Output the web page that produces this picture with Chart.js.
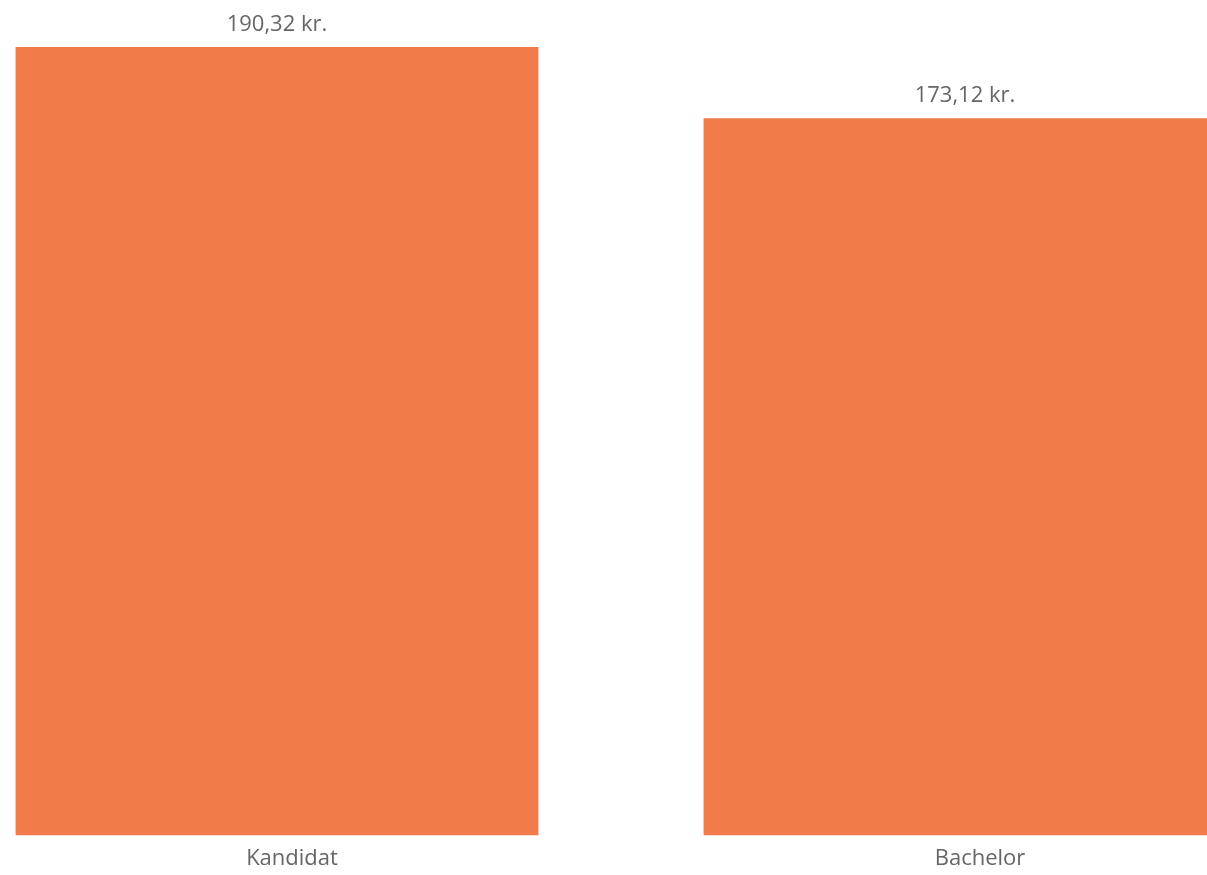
<!DOCTYPE html>
<html>
<head>
<meta charset="utf-8">
<script src="https://cdn.jsdelivr.net/npm/chart.js@4"></script>
<style>
    html, body { margin: 0; padding: 0; background: #fff; overflow: hidden; }
    body { width: 1207px; height: 875px; position: relative; }
    #wrap { position: absolute; left: -67px; top: 0; width: 1376px; height: 882px; }
</style>
</head>
<body>
<div id="wrap"><canvas id="barChart"></canvas></div>
<script>
// chart data
const categories = ['Kandidat', 'Bachelor'];
const values = [190.32, 173.12];

function formatKr(v) {
    return v.toFixed(2).replace('.', ',') + ' kr.';
}

// draws the value above each bar
const valueLabels = {
    id: 'valueLabels',
    afterDatasetsDraw(chart) {
        const ctx = chart.ctx;
        const meta = chart.getDatasetMeta(0);
        ctx.save();
        ctx.font = '22px "Open Sans", "Noto Sans", sans-serif';
        ctx.fillStyle = '#666666';
        ctx.textAlign = 'center';
        ctx.textBaseline = 'alphabetic';
        meta.data.forEach((bar, i) => {
            ctx.fillText(formatKr(values[i]), bar.x, bar.y - 16);
        });
        ctx.restore();
    }
};

document.addEventListener('DOMContentLoaded', function() {
    const ctx = document.getElementById('barChart').getContext('2d');
    new Chart(ctx, {
        type: 'bar',
        data: {
            labels: categories,
            datasets: [{
                data: values,
                backgroundColor: '#f27c49',
                borderWidth: 0,
                barPercentage: 0.76,
                categoryPercentage: 1.0
            }]
        },
        options: {
            responsive: true,
            maintainAspectRatio: false,
            animation: false,
            layout: { padding: { top: 47, bottom: 0, left: 0, right: 0 } },
            plugins: {
                legend: { display: false },
                tooltip: { enabled: false }
            },
            scales: {
                x: {
                    grid: { display: false, drawTicks: false },
                    border: { display: false },
                    ticks: {
                        color: '#666666',
                        padding: 10,
                        labelOffset: 15,
                        font: { family: '"Open Sans", "Noto Sans", sans-serif', size: 22 }
                    }
                },
                y: {
                    display: false,
                    min: 0,
                    max: Math.max(...values)
                }
            }
        },
        plugins: [valueLabels]
    });
});
</script>
</body>
</html>
